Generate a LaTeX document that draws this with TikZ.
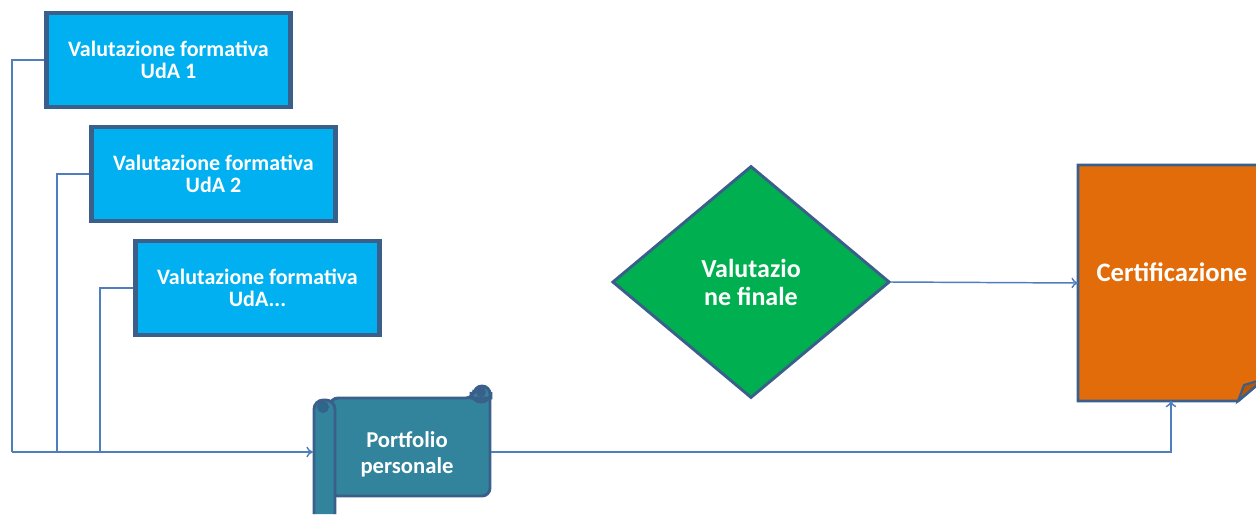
\documentclass[tikz,border=0pt]{standalone}
\usepackage{fontspec}
\setmainfont{Carlito}
\usetikzlibrary{shapes.geometric,arrows.meta}
\definecolor{bordc}{HTML}{3A5F8B}
\definecolor{linec}{HTML}{4F7EC0}
\definecolor{cyanf}{HTML}{00B0F0}
\definecolor{tealf}{HTML}{31849B}
\definecolor{rollf}{HTML}{2A6A86}
\definecolor{greenf}{HTML}{00B050}
\definecolor{orangef}{HTML}{E36C0A}
\tikzset{
  vbox/.style={draw=bordc, line width=3.2pt, fill=cyanf, minimum width=183pt, minimum height=70pt, inner sep=0pt, text=white, font=\fontsize{16.5}{17}\selectfont\bfseries, align=center},
  conn/.style={draw=linec, line width=1.1pt},
  arr/.style={conn, -{To[length=5pt,width=8pt]}},
  lbl/.style={text=white, font=\fontsize{17}{19.5}\selectfont\bfseries, align=center},
}
\begin{document}
\begin{tikzpicture}[x=0.75pt,y=-0.75pt]
\useasboundingbox (0,0) rectangle (1256,515);
\clip (0,0) rectangle (1256,515);
% boxes
\node[vbox] (b1) at (168.5,60) {Valutazione formativa\\UdA 1};
\node[vbox] (b2) at (213.5,174) {Valutazione formativa\\UdA 2};
\node[vbox] (b3) at (257.5,288) {Valutazione formativa\\UdA...};
% portfolio scroll
\fill[tealf, draw=bordc, line width=2.2pt, rounded corners=6pt] (330,398) -- (474,398) -- (474,386) -- (490,386) -- (490,496) -- (330,496) -- cycle;
\fill[rollf, draw=bordc, line width=2.2pt] (471,398) -- (471,392) arc (180:0:10) -- (491,398) -- cycle;
\fill[tealf, draw=bordc, line width=2.2pt, rounded corners=7pt] (314,514) -- (314,400) -- (335,400) -- (335,514);
\fill[rollf, draw=bordc, line width=1.4pt] (323,407) circle (5);
\fill[bordc] (481,392) circle (5);
\node[lbl, minimum width=130pt, minimum height=60pt] (pf) at (407,454) {Portfolio\\personale};
\coordinate (pfin) at (313,452);
\coordinate (pfout) at (491,452);
% diamond
\node[diamond, draw=bordc, line width=2.2pt, fill=greenf, minimum width=208pt, minimum height=174pt, inner sep=0pt, lbl, font=\fontsize{19.5}{21}\selectfont\bfseries] (vf) at (751,282) {Valutazio\\ne finale};
% certification
\fill[orangef, draw=bordc, line width=2.2pt] (1078,165) -- (1264,165) -- (1264,379) -- (1238,401) -- (1078,401) -- cycle;
\fill[orangef!80!black, draw=bordc, line width=1.6pt] (1238,401) -- (1244,385) -- (1264,379) -- cycle;
\node[minimum width=139pt, minimum height=176pt, inner sep=0pt] (cert) at (1171,283) {};
\node[lbl, font=\fontsize{20}{22}\selectfont\bfseries] at (1172,272) {Certificazione};
% connectors
\coordinate (j1) at (12,452);
\coordinate (j2) at (57,452);
\coordinate (j3) at (100,452);
\draw[conn] (b1.west) -| (j1);
\draw[conn] (b2.west) -| (j2);
\draw[conn] (b3.west) -| (j3);
\draw[arr] (j1) -- (pfin);
\draw[arr] (pfout) -| (cert.south);
\draw[arr] (vf.east) -- (cert.west);
\end{tikzpicture}
\end{document}
